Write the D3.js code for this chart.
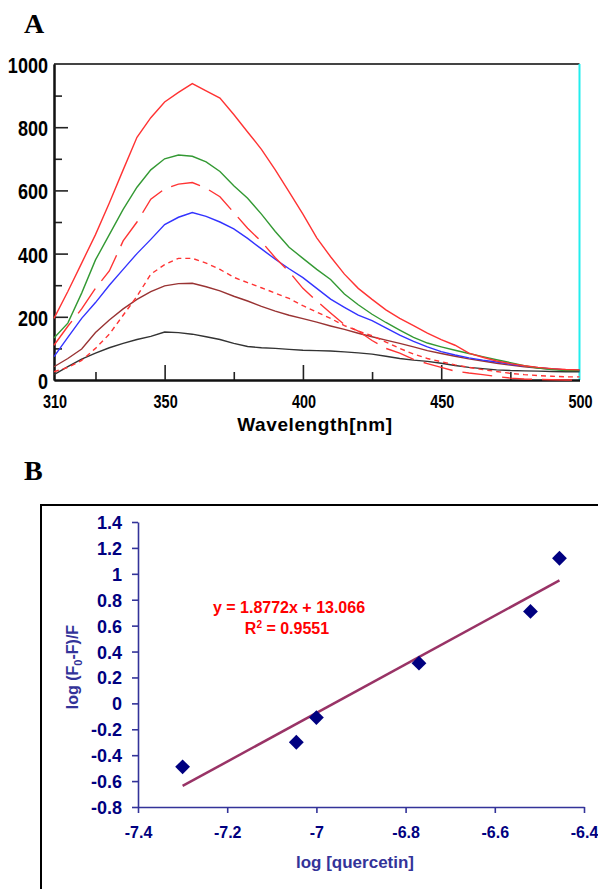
<!DOCTYPE html>
<html>
<head>
<meta charset="utf-8">
<script src="https://cdn.jsdelivr.net/npm/d3@7"></script>
<style>
  body { margin: 0; background: #fff; }
  svg { display: block; }
</style>
</head>
<body>
<svg id="chart" width="598" height="889"></svg>
<script>
// ---- panel A data : fluorescence spectra ----
const wavelengths = [310, 315, 320, 325, 330, 335, 340, 345, 350, 355, 360, 365, 370, 375, 380, 385, 390, 395, 400,
  405, 410, 415, 420, 425, 430, 435, 440, 445, 450, 455, 460, 465, 470, 475, 480, 485, 490, 495, 500];

const redSolid = [195, 280, 370, 460, 560, 665, 768, 830, 880, 910, 938, 915, 892, 840, 785, 730, 665, 595, 525,
  450, 390, 335, 290, 255, 222, 195, 172, 148, 128, 110, 85, 72, 60, 52, 45, 40, 36, 33, 32];
const greenSolid = [133, 180, 275, 380, 460, 540, 610, 665, 700, 712, 708, 690, 660, 615, 575, 525, 470, 420, 385,
  350, 318, 272, 238, 208, 182, 158, 135, 117, 105, 94, 84, 74, 64, 55, 45, 38, 33, 30, 30];
const blueSolid = [74, 135, 195, 245, 300, 350, 400, 445, 492, 515, 530, 518, 500, 478, 448, 415, 382, 352, 324,
  290, 256, 230, 205, 188, 165, 142, 122, 105, 90, 79, 70, 63, 57, 50, 44, 39, 35, 32, 30];
const redLongDash = [110, 170, 225, 290, 345, 440, 500, 572, 605, 620, 625, 607, 580, 530, 480, 438, 387, 343, 290,
  250, 212, 175, 155, 125, 100, 85, 65, 52, 40, 28, 22, 17, 11, 6, 3, 2, 1, 0, 0];
const redShortDash = [26, 40, 62, 100, 145, 205, 265, 335, 365, 385, 385, 370, 350, 325, 308, 292, 275, 258, 235,
  215, 195, 172, 155, 140, 120, 100, 82, 68, 58, 48, 40, 33, 27, 21, 17, 14, 12, 10, 10];
const brownSolid = [42, 68, 98, 150, 190, 225, 255, 280, 298, 305, 306, 295, 282, 265, 250, 233, 218, 205, 194,
  183, 171, 160, 148, 137, 126, 116, 105, 93, 84, 75, 67, 60, 53, 47, 42, 38, 35, 32, 31];
const blackSolid = [17, 42, 66, 85, 102, 116, 128, 138, 152, 150, 145, 137, 128, 116, 106, 102, 100, 97, 94,
  93, 92, 89, 86, 82, 75, 68, 63, 59, 53, 46, 40, 36, 32, 30, 29, 28, 27, 26, 26];

const xTicksA = [310, 350, 400, 450, 500];
const xMinorA = [325, 375, 425, 475];
const yTicksA = [0, 200, 400, 600, 800, 1000];
const yMinorA = [100, 300, 500, 700, 900];

// ---- panel B data : log plot ----
const logQuercetin = [-7.3, -7.045, -7.0, -6.77, -6.52, -6.455];
const logRatio = [-0.49, -0.30, -0.11, 0.31, 0.71, 1.12];
const slope = 1.8772, intercept = 13.066;
const xTicksB = [-7.4, -7.2, -7, -6.8, -6.6, -6.4];
const yTicksB = [-0.8, -0.6, -0.4, -0.2, 0, 0.2, 0.4, 0.6, 0.8, 1, 1.2, 1.4];

const svg = d3.select('#chart');
const sans = '"Liberation Sans", Arial, sans-serif';
const serif = '"Liberation Serif", "Times New Roman", serif';

// ================= panel A =================
const xA = d3.scaleLinear().domain([310, 500]).range([54, 579.5]);
const yA = d3.scaleLinear().domain([0, 1000]).range([380, 64]);

svg.append('text')
  .attr('x', 24).attr('y', 33)
  .attr('font-family', serif)
  .attr('font-weight', 'bold')
  .attr('font-size', 28)
  .text('A');

const gA = svg.append('g');

// top frame (grey) and right frame (cyan)
gA.append('line')
  .attr('x1', xA(310)).attr('x2', xA(500))
  .attr('y1', yA(1000)).attr('y2', yA(1000))
  .attr('stroke', '#444').attr('stroke-width', 2);
gA.append('line')
  .attr('x1', xA(500)).attr('x2', xA(500))
  .attr('y1', yA(1000)).attr('y2', yA(0))
  .attr('stroke', '#22eeee').attr('stroke-width', 2);

// axes, ticks pointing inwards
const axisStyle = g => {
  g.select('.domain').attr('stroke', '#111').attr('stroke-width', 2);
  g.selectAll('.tick line').attr('stroke', '#222').attr('stroke-width', 1.6);
};

gA.append('g')
  .attr('transform', `translate(0,${yA(0)})`)
  .call(d3.axisBottom(xA).tickValues(xMinorA).tickSizeInner(-8).tickSizeOuter(0).tickFormat(''))
  .call(axisStyle);
gA.append('g')
  .attr('transform', `translate(0,${yA(0)})`)
  .call(d3.axisBottom(xA).tickValues(xTicksA.filter(d => d > 310 && d < 500))
    .tickSizeInner(-15).tickSizeOuter(0).tickFormat(''))
  .call(axisStyle);

gA.append('g')
  .attr('transform', `translate(${xA(310)},0)`)
  .call(d3.axisLeft(yA).tickValues(yMinorA).tickSizeInner(-8).tickSizeOuter(0).tickFormat(''))
  .call(axisStyle);
gA.append('g')
  .attr('transform', `translate(${xA(310)},0)`)
  .call(d3.axisLeft(yA).tickValues(yTicksA.filter(d => d > 0 && d < 1000))
    .tickSizeInner(-14).tickSizeOuter(0).tickFormat(''))
  .call(axisStyle);

// tick labels (squeezed horizontally, like the narrow bitmap font of the original)
gA.selectAll('.ylab')
  .data(yTicksA)
  .enter()
  .append('text')
  .attr('class', 'ylab')
  .attr('transform', d => `translate(48,${yA(d) + 9}) scale(0.82,1)`)
  .attr('text-anchor', 'end')
  .attr('font-family', sans)
  .attr('font-weight', 'bold')
  .attr('font-size', 22)
  .text(d => d);

gA.selectAll('.xlab')
  .data(xTicksA)
  .enter()
  .append('text')
  .attr('class', 'xlab')
  .attr('transform', d => `translate(${xA(d) + 1},408) scale(0.76,1)`)
  .attr('text-anchor', 'middle')
  .attr('font-family', sans)
  .attr('font-weight', 'bold')
  .attr('font-size', 19)
  .text(d => d);

gA.append('text')
  .attr('x', 315).attr('y', 431)
  .attr('text-anchor', 'middle')
  .attr('font-family', sans)
  .attr('font-weight', 'bold')
  .attr('font-size', 19)
  .attr('letter-spacing', 0.6)
  .text('Wavelength[nm]');

// spectra
const spectra = [
  { values: blackSolid, color: '#333333', dash: null },
  { values: brownSolid, color: '#993333', dash: null },
  { values: redShortDash, color: '#ff3333', dash: '5,4' },
  { values: blueSolid, color: '#3333ff', dash: null },
  { values: redLongDash, color: '#ff3333', dash: '30,10' },
  { values: greenSolid, color: '#339933', dash: null },
  { values: redSolid, color: '#ff3333', dash: null }
];

const lineA = d3.line()
  .x((d, i) => xA(wavelengths[i]))
  .y(d => yA(d));

gA.selectAll('.spectrum')
  .data(spectra)
  .enter()
  .append('path')
  .attr('class', 'spectrum')
  .attr('fill', 'none')
  .attr('stroke', d => d.color)
  .attr('stroke-width', 1.4)
  .attr('stroke-dasharray', d => d.dash)
  .attr('d', d => lineA(d.values));

// ================= panel B =================
svg.append('text')
  .attr('x', 24).attr('y', 480)
  .attr('font-family', serif)
  .attr('font-weight', 'bold')
  .attr('font-size', 28)
  .text('B');

// outer frame, only left and top edges are visible
svg.append('rect')
  .attr('x', 41).attr('y', 505)
  .attr('width', 620).attr('height', 420)
  .attr('fill', 'none')
  .attr('stroke', '#000')
  .attr('stroke-width', 2);

const xB = d3.scaleLinear().domain([-7.4, -6.4]).range([138, 584]);
const yB = d3.scaleLinear().domain([-0.8, 1.4]).range([807, 522]);
const navy = '#000080';
const axisNavy = '#333399';
const fmt = d => String(+d.toFixed(1));

const gB = svg.append('g');

gB.append('g')
  .attr('transform', `translate(0,${yB(-0.8)})`)
  .call(d3.axisBottom(xB).tickValues(xTicksB).tickSizeInner(6).tickSizeOuter(0).tickPadding(14).tickFormat(fmt))
  .call(g => {
    g.select('.domain').attr('stroke', axisNavy).attr('stroke-width', 1.6);
    g.selectAll('.tick line').attr('stroke', axisNavy).attr('stroke-width', 1.6);
    g.selectAll('.tick text')
      .attr('fill', navy)
      .attr('font-family', sans)
      .attr('font-weight', 'bold')
      .attr('font-size', 16);
  });

gB.append('g')
  .attr('transform', `translate(${xB(-7.4)},0)`)
  .call(d3.axisLeft(yB).tickValues(yTicksB).tickSizeInner(6).tickSizeOuter(0).tickPadding(10).tickFormat(fmt))
  .call(g => {
    g.select('.domain').attr('stroke', axisNavy).attr('stroke-width', 1.6);
    g.selectAll('.tick line').attr('stroke', axisNavy).attr('stroke-width', 1.6);
    g.selectAll('.tick text')
      .attr('fill', navy)
      .attr('font-family', sans)
      .attr('font-weight', 'bold')
      .attr('font-size', 18)
      .attr('dy', '0.36em');
  });

// axis titles
gB.append('text')
  .attr('x', 355).attr('y', 868)
  .attr('text-anchor', 'middle')
  .attr('fill', axisNavy)
  .attr('font-family', sans)
  .attr('font-weight', 'bold')
  .attr('font-size', 17)
  .text('log [quercetin]');

const yTitle = gB.append('text')
  .attr('transform', 'translate(78,667) rotate(-90)')
  .attr('text-anchor', 'middle')
  .attr('fill', axisNavy)
  .attr('font-family', sans)
  .attr('font-weight', 'bold')
  .attr('font-size', 16);
yTitle.append('tspan').text('log (F');
yTitle.append('tspan').attr('font-size', 11).attr('dy', 4).text('0');
yTitle.append('tspan').attr('dy', -4).text('-F)/F');

// trend line
gB.append('line')
  .attr('x1', xB(logQuercetin[0]))
  .attr('y1', yB(slope * logQuercetin[0] + intercept))
  .attr('x2', xB(logQuercetin[logQuercetin.length - 1]))
  .attr('y2', yB(slope * logQuercetin[logQuercetin.length - 1] + intercept))
  .attr('stroke', '#993366')
  .attr('stroke-width', 2.5);

// diamonds
gB.selectAll('.pt')
  .data(logQuercetin)
  .enter()
  .append('path')
  .attr('class', 'pt')
  .attr('d', d3.symbol().type(d3.symbolSquare).size(110))
  .attr('transform', (d, i) => `translate(${xB(d)},${yB(logRatio[i])}) rotate(45)`)
  .attr('fill', navy);

// equation label
gB.append('text')
  .attr('x', 289).attr('y', 613)
  .attr('text-anchor', 'middle')
  .attr('fill', '#ff0000')
  .attr('font-family', sans)
  .attr('font-weight', 'bold')
  .attr('font-size', 16)
  .text(`y = ${slope}x + ${intercept}`);
const r2 = gB.append('text')
  .attr('x', 287).attr('y', 634)
  .attr('text-anchor', 'middle')
  .attr('fill', '#ff0000')
  .attr('font-family', sans)
  .attr('font-weight', 'bold')
  .attr('font-size', 16);
r2.append('tspan').text('R');
r2.append('tspan').attr('font-size', 10).attr('dy', -6).text('2');
r2.append('tspan').attr('dy', 6).text(' = 0.9551');
</script>
</body>
</html>
